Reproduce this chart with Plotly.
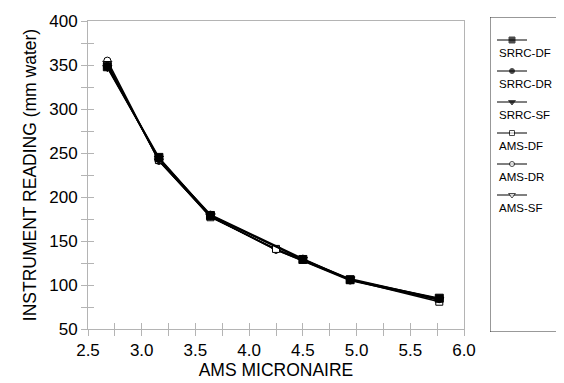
import plotly.graph_objects as go

# ---------------- data ----------------
series_names = ["SRRC-DF", "SRRC-DR", "SRRC-SF", "AMS-DF", "AMS-DR", "AMS-SF"]
x_srrc = [2.68, 3.16, 3.64, 4.50, 4.94, 5.77]
x_ams = [2.68, 3.16, 3.64, 4.25, 4.94, 5.77]
srrc_df = [348, 245, 179, 129, 106, 85]
srrc_dr = [349, 243, 180, 130, 106, 84]
srrc_sf = [347, 244, 179, 129, 107, 84]
ams_df = [350, 242, 177, 141, 106, 81]
ams_dr = [355, 241, 178, 140, 105, 83]
ams_sf = [352, 241, 178, 140, 106, 83]
x_ticks = [2.5, 3.0, 3.5, 4.0, 4.5, 5.0, 5.5, 6.0]
y_ticks = [50, 100, 150, 200, 250, 300, 350, 400]

W, H = 564, 383
FONT = "Arial, Liberation Sans, sans-serif"
GRAY = "#b4b4b4"

# plot area in pixels
PL, PR, PT, PB = 80, 456, 13, 321
# legend box in pixels
LL, LR, LT, LB = 482, 563, 9, 324

styles = {
    "SRRC-DF": dict(symbol="square", color="black", size=8),
    "SRRC-DR": dict(symbol="circle", color="black", size=7),
    "SRRC-SF": dict(symbol="triangle-down", color="black", size=8),
    "AMS-DF": dict(symbol="square", color="white", size=7),
    "AMS-DR": dict(symbol="circle", color="white", size=7),
    "AMS-SF": dict(symbol="triangle-down", color="white", size=8),
}
data = {
    "SRRC-DF": (x_srrc, srrc_df),
    "SRRC-DR": (x_srrc, srrc_dr),
    "SRRC-SF": (x_srrc, srrc_sf),
    "AMS-DF": (x_ams, ams_df),
    "AMS-DR": (x_ams, ams_dr),
    "AMS-SF": (x_ams, ams_sf),
}

fig = go.Figure()

draw_order = ["AMS-SF", "AMS-DR", "AMS-DF", "SRRC-SF", "SRRC-DR", "SRRC-DF"]
for name in draw_order:
    xs, ys = data[name]
    st = styles[name]
    fig.add_trace(go.Scatter(
        x=xs, y=ys, mode="lines+markers", name=name, showlegend=False,
        line=dict(color="black", width=1.5),
        marker=dict(symbol=st["symbol"], size=st["size"], color=st["color"],
                    line=dict(color="black", width=1)),
        xaxis="x", yaxis="y",
    ))

# empty trace so overlay axes (for crossing ticks) are drawn
fig.add_trace(go.Scatter(x=[], y=[], xaxis="x2", yaxis="y2", showlegend=False))

# manual legend (symbol above label)
for i, name in enumerate(series_names):
    st = styles[name]
    yc = 32 + 31 * i
    fig.add_trace(go.Scatter(
        x=[489, 504, 519], y=[yc, yc, yc], mode="lines+markers", showlegend=False,
        line=dict(color="black", width=1),
        marker=dict(symbol=st["symbol"], size=[0, st["size"] - 2, 0], color=st["color"],
                    line=dict(color="black", width=[0, 1, 0])),
        xaxis="x3", yaxis="y3", hoverinfo="skip",
    ))
    fig.add_annotation(x=489, y=yc + 13, xref="x3", yref="y3", text=name,
                       showarrow=False, xanchor="left", yanchor="middle",
                       font=dict(family=FONT, size=11.5, color="black"))

fig.add_shape(type="rect", xref="x3", yref="y3", x0=LL, x1=LR, y0=LT, y1=LB,
              line=dict(color="#333333", width=1), fillcolor="rgba(0,0,0,0)")

xdom = [PL / W, PR / W]
ydom = [1 - PB / H, 1 - PT / H]

fig.update_layout(
    width=W, height=H,
    margin=dict(l=0, r=0, t=0, b=0, autoexpand=False),
    paper_bgcolor="white", plot_bgcolor="white",
    font=dict(family=FONT, color="black"),
    xaxis=dict(
        domain=xdom, range=[2.5, 6.0], anchor="y",
        tickvals=x_ticks, ticktext=[f"{v:.1f}" for v in x_ticks],
        ticks="outside", ticklen=6, tickcolor=GRAY, tickwidth=1,
        minor=dict(dtick=0.25, tick0=2.5, ticks="outside", ticklen=6, tickcolor=GRAY),
        showline=True, linecolor=GRAY, linewidth=1, mirror=True,
        showgrid=False, zeroline=False,
        tickfont=dict(family=FONT, size=17),
        title=dict(text="AMS MICRONAIRE", font=dict(family=FONT, size=17.5), standoff=4),
        automargin=False,
    ),
    yaxis=dict(
        domain=ydom, range=[50, 400], anchor="x",
        tickvals=y_ticks, ticktext=[str(v) for v in y_ticks],
        ticks="outside", ticklen=6, tickcolor=GRAY, tickwidth=1,
        minor=dict(dtick=25, tick0=50, ticks="outside", ticklen=6, tickcolor=GRAY),
        showline=True, linecolor=GRAY, linewidth=1, mirror=True,
        showgrid=False, zeroline=False,
        tickfont=dict(family=FONT, size=17),
        title=dict(text="INSTRUMENT READING (mm water)", font=dict(family=FONT, size=17.5), standoff=8),
        automargin=False,
    ),
    xaxis2=dict(
        overlaying="x", anchor="y2", range=[2.5, 6.0], side="bottom",
        tickvals=x_ticks, ticks="inside", ticklen=6, tickcolor=GRAY,
        minor=dict(dtick=0.25, tick0=2.5, ticks="inside", ticklen=6, tickcolor=GRAY),
        showticklabels=False, showline=False, showgrid=False, zeroline=False,
    ),
    yaxis2=dict(
        overlaying="y", anchor="x2", range=[50, 400], side="left",
        tickvals=y_ticks, ticks="inside", ticklen=6, tickcolor=GRAY,
        minor=dict(dtick=25, tick0=50, ticks="inside", ticklen=6, tickcolor=GRAY),
        showticklabels=False, showline=False, showgrid=False, zeroline=False,
    ),
    xaxis3=dict(domain=[LL / W, LR / W], range=[LL, LR], anchor="y3", visible=False),
    yaxis3=dict(domain=[1 - LB / H, 1 - LT / H], range=[LB, LT], anchor="x3", visible=False),
)

fig.write_html("out.html")
